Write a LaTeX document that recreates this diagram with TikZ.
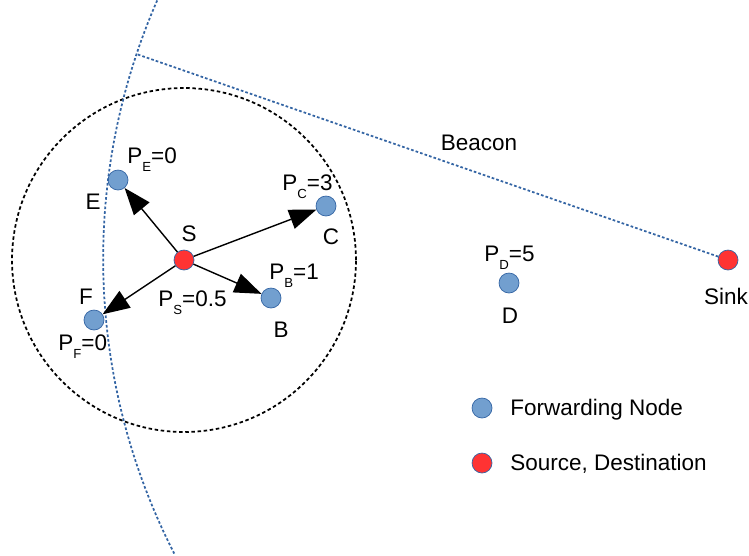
\documentclass[tikz,border=0pt]{standalone}
\usepackage{fontspec}
\setmainfont{Liberation Sans}
\usepackage{tikz}
\usetikzlibrary{arrows.meta,calc}

\definecolor{fwdblue}{HTML}{729FCF}
\definecolor{srcred}{HTML}{FF3333}
\definecolor{rimblue}{HTML}{3465A4}
\newcommand{\psub}[2]{P\raisebox{-5pt}{\fontsize{7.5}{8}\selectfont #1}=#2}

\begin{document}
\begin{tikzpicture}[x=0.02cm,y=0.02cm,
		fwd/.style={circle,draw=rimblue,fill=fwdblue,minimum size=0.4cm,inner sep=0pt},
		src/.style={circle,draw=rimblue,fill=srcred,minimum size=0.4cm,inner sep=0pt},
		lbl/.style={font=\fontsize{12.8}{15}\selectfont,inner sep=0pt},
		push/.style={-{Triangle[length=0.54cm,width=0.4cm]},line width=0.8pt},
		beacon/.style={rimblue,line width=1pt,dash pattern=on 1.5pt off 1.2pt},
		rangering/.style={black,line width=1pt,dash pattern=on 2pt off 1.5pt}]
		\useasboundingbox (0,0) rectangle (749,-555);

		% nodes
		\node[src] (S) at (184,-260) {};
		\node[fwd] (E) at (118,-180) {};
		\node[fwd] (C) at (326,-206) {};
		\node[fwd] (B) at (271,-298) {};
		\node[fwd] (F) at (94,-320) {};
		\node[fwd] (D) at (509,-283) {};
		\node[src] (sink) at (728,-260) {};

		% transmission range and beacon front
		\draw[rangering] (S.center) circle[radius=3.44cm];
		\coordinate (front) at (749,-259);
		\draw[beacon] (front) ++(156.4:12.92cm) arc[start angle=156.4,end angle=207.3,radius=12.92cm];
		\coordinate (bcn) at ($(front)+(161.5:12.92cm)$);
		\draw[beacon] (sink) -- (bcn);

		\draw[push] (S) -- (E);
		\draw[push] (S) -- (C);
		\draw[push] (S) -- (B);
		\draw[push] (S) -- (F);

		% labels
		\node[lbl] (tS) at (189,-234) {S};
		\node[lbl] (tE) at (93,-202) {E};
		\node[lbl] (tC) at (331,-237) {C};
		\node[lbl] (tB) at (281,-330) {B};
		\node[lbl] (tF) at (86,-297) {F};
		\node[lbl] (tD) at (510,-316) {D};
		\node[lbl] (tsink) at (726,-296) {Sink};
		\node[lbl] (tbeacon) at (479,-143) {Beacon};

		\node[lbl,anchor=base west] (pE) at (127,-163) {\psub{E}{0}};
		\node[lbl,anchor=base west] (pC) at (282,-190) {\psub{C}{3}};
		\node[lbl,anchor=base west] (pB) at (269,-279) {\psub{B}{1}};
		\node[lbl,anchor=base west] (pS) at (158,-306) {\psub{S}{0.5}};
		\node[lbl,anchor=base west] (pF) at (58,-350) {\psub{F}{0}};
		\node[lbl,anchor=base west] (pD) at (484,-261) {\psub{D}{5}};

		% legend
		\node[fwd] (kfwd) at (482,-408) {};
		\node[lbl,anchor=west] (tfwd) at (510,-410) {Forwarding Node};
		\node[src] (ksrc) at (482,-463) {};
		\node[lbl,anchor=west] (tsrc) at (510,-464) {Source, Destination};
	\end{tikzpicture}
\end{document}
